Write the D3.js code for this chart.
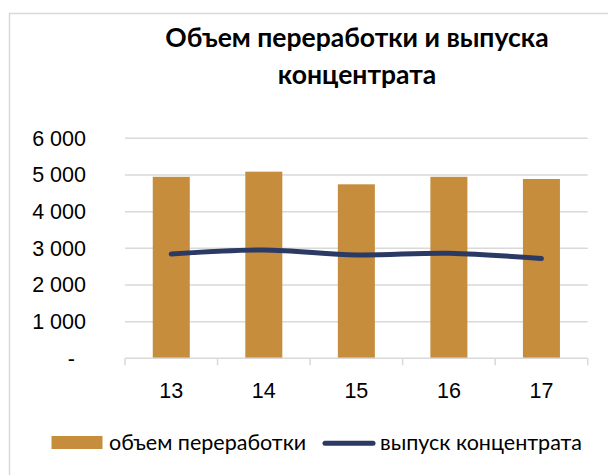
<!DOCTYPE html>
<html lang="ru">
<head>
    <meta charset="UTF-8">
    <title>Объем переработки и выпуска концентрата</title>
    <script src="https://d3js.org/d3.v7.min.js"></script>
    <style>
        body { margin: 0; background: #fff; }
        svg { display: block; font-family: Lato, "Open Sans", sans-serif; }
        .axis path { display: none; }
        .axis text { fill: #000; }
    </style>
</head>
<body>
    <div id="chart"></div>
    <script>
        // data
        const years = ["13", "14", "15", "16", "17"];
        const processing = [4950, 5090, 4745, 4950, 4890];   // объем переработки
        const output = [2845, 2955, 2820, 2865, 2720];       // выпуск концентрата
        const yTicks = [0, 1000, 2000, 3000, 4000, 5000, 6000];

        const barColor = "#c58d3c",
              lineColor = "#2b3a64",
              gridColor = "#d9d9d9";

        const width = 608, height = 475;
        const plot = {left: 125, right: 587.7, top: 138.3, bottom: 358.3};

        const svg = d3.select("#chart").append("svg")
            .attr("width", width)
            .attr("height", height);

        // chart frame (only left and top edges are visible in the crop)
        svg.append("rect")
            .attr("x", 9.5).attr("y", 13.5)
            .attr("width", 640).attr("height", 500)
            .attr("fill", "none")
            .attr("stroke", gridColor)
            .attr("stroke-width", 1.5);

        const x = d3.scaleBand()
            .domain(years)
            .range([plot.left, plot.right])
            .paddingInner(0.6)
            .paddingOuter(0.3);

        const y = d3.scaleLinear()
            .domain([0, 6000])
            .range([plot.bottom, plot.top]);

        // gridlines
        svg.append("g")
            .selectAll("line")
            .data(yTicks.filter(d => d > 0))
            .enter().append("line")
            .attr("x1", plot.left).attr("x2", plot.right)
            .attr("y1", d => y(d)).attr("y2", d => y(d))
            .attr("stroke", gridColor)
            .attr("stroke-width", 1.5);

        // bars
        svg.append("g")
            .selectAll("rect")
            .data(years)
            .enter().append("rect")
            .attr("x", d => x(d))
            .attr("width", x.bandwidth())
            .attr("y", (d, i) => y(processing[i]))
            .attr("height", (d, i) => y(0) - y(processing[i]))
            .attr("fill", barColor);

        // x axis line with boundary ticks
        const step = x.step();
        svg.append("line")
            .attr("x1", plot.left).attr("x2", plot.right)
            .attr("y1", y(0)).attr("y2", y(0))
            .attr("stroke", gridColor)
            .attr("stroke-width", 1.5);
        svg.append("g")
            .selectAll("line")
            .data(d3.range(years.length + 1))
            .enter().append("line")
            .attr("x1", i => plot.left + i * step)
            .attr("x2", i => plot.left + i * step)
            .attr("y1", y(0)).attr("y2", y(0) + 7)
            .attr("stroke", gridColor)
            .attr("stroke-width", 1.5);

        // x labels
        svg.append("g")
            .attr("class", "axis")
            .attr("transform", "translate(0," + y(0) + ")")
            .call(d3.axisBottom(x).tickSize(0).tickPadding(24))
            .selectAll("text")
            .style("font-size", "21.5px");

        // y labels, "6 000" style, zero shown as "-"
        const fmt = d3.formatLocale({decimal: ",", thousands: " ", grouping: [3], currency: ["", ""]}).format(",");
        const yAxis = svg.append("g")
            .attr("class", "axis")
            .attr("transform", "translate(" + plot.left + ",0)")
            .call(d3.axisLeft(y).tickValues(yTicks).tickSize(0).tickPadding(39)
                .tickFormat(d => d === 0 ? "-" : fmt(d)));
        yAxis.selectAll("text").style("font-size", "21.5px");
        yAxis.selectAll("text").filter(d => d === 0).attr("dx", -11);

        // line
        const line = d3.line()
            .x((d, i) => x(years[i]) + x.bandwidth() / 2)
            .y(d => y(d))
            .curve(d3.curveCatmullRom.alpha(0.5));

        svg.append("path")
            .datum(output)
            .attr("d", line)
            .attr("fill", "none")
            .attr("stroke", lineColor)
            .attr("stroke-width", 5)
            .attr("stroke-linecap", "round");

        // title
        const title = svg.append("text")
            .attr("text-anchor", "middle")
            .style("font-size", "26.5px")
            .style("font-weight", "bold");
        title.append("tspan").attr("x", 357).attr("y", 47).text("Объем переработки и выпуска");
        title.append("tspan").attr("x", 357).attr("y", 84).text("концентрата");

        // legend
        const legend = svg.append("g").style("font-size", "21.5px");
        legend.append("rect")
            .attr("x", 51.5).attr("y", 436)
            .attr("width", 51).attr("height", 13)
            .attr("fill", barColor);
        legend.append("text")
            .attr("x", 109).attr("y", 450)
            .text("объем переработки");
        legend.append("line")
            .attr("x1", 325).attr("x2", 373)
            .attr("y1", 443.3).attr("y2", 443.3)
            .attr("stroke", lineColor)
            .attr("stroke-width", 5)
            .attr("stroke-linecap", "round");
        legend.append("text")
            .attr("x", 380).attr("y", 450)
            .text("выпуск концентрата");
    </script>
</body>
</html>
